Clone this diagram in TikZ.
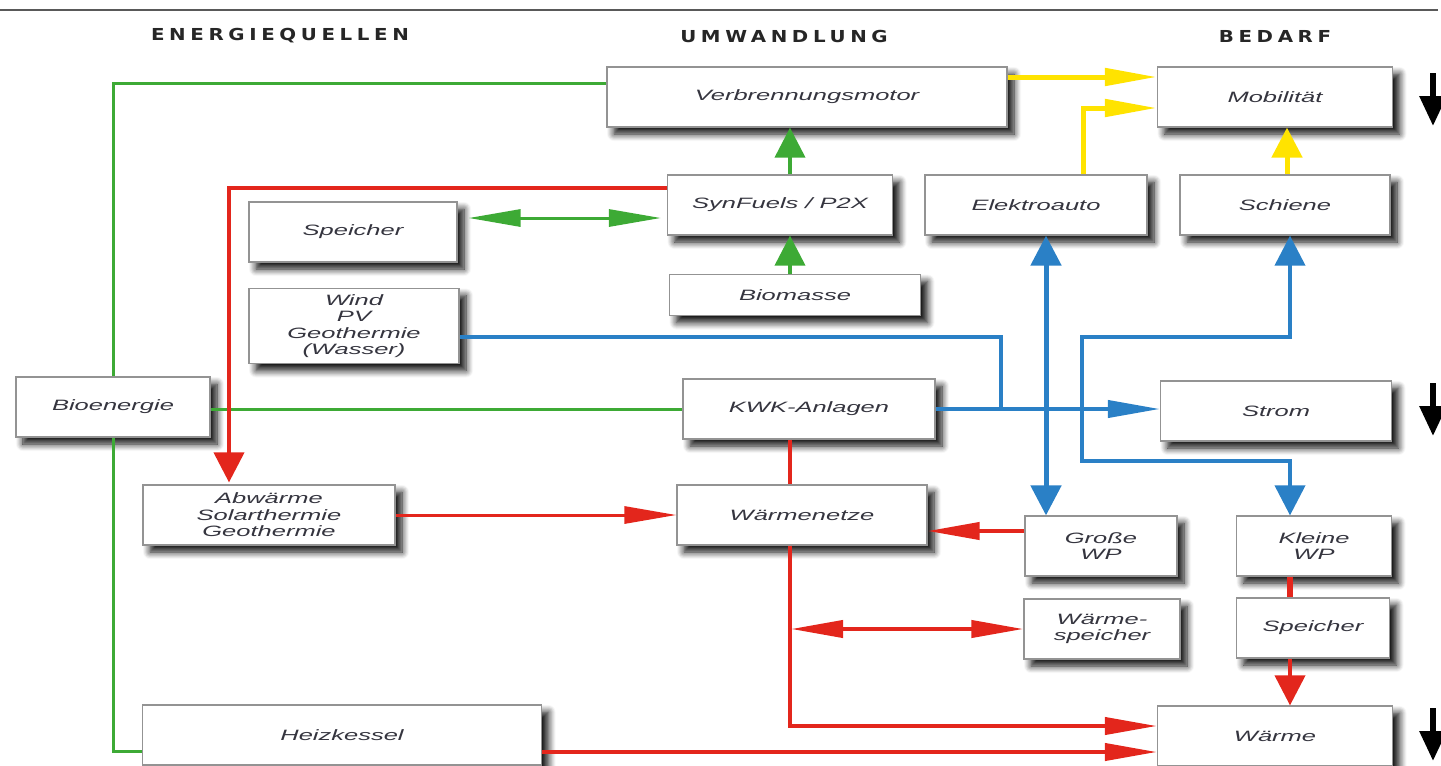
\documentclass[tikz,border=0pt]{standalone}
\usepackage{fontspec}
\setmainfont{Liberation Sans}[FakeStretch=1.7]
\newfontfamily\kopffont{DejaVu Sans}[FakeStretch=1.2,LetterSpace=28]
\usetikzlibrary{arrows.meta,shadows.blur}
\definecolor{gruen}{HTML}{3DAA35}
\definecolor{rot}{HTML}{E3261C}
\definecolor{blau}{HTML}{2A80C6}
\definecolor{gelb}{HTML}{FFE300}
\definecolor{schrift}{HTML}{35353F}
\begin{document}
\begin{tikzpicture}[x=1pt, y=-1pt, line join=miter]
		\tikzset{box/.style={draw=gray!85, line width=1.2pt, fill=white, minimum height=60pt, inner sep=0pt, align=center, text=schrift, font=\fontsize{15}{16.5}\selectfont\itshape, blur shadow={shadow xshift=7pt, shadow yshift=-7pt, shadow blur radius=7pt, shadow blur steps=8, shadow opacity=95}}}
		\tikzset{kopf/.style={font=\kopffont\bfseries\fontsize{16.5}{18}\selectfont, text=black!85}}
		\tikzset{hpfeil/.style={-{Triangle[length=52pt,width=17pt]}}, hdoppel/.style={{Triangle[length=52pt,width=17pt]}-{Triangle[length=52pt,width=17pt]}}}
		\tikzset{vpfeil/.style={-{Triangle[length=30pt,width=30pt]}}, vdoppel/.style={{Triangle[length=30pt,width=30pt]}-{Triangle[length=30pt,width=30pt]}}}
		\useasboundingbox (0,0) rectangle (1441,766);
		\draw[gray!70!black, line width=2pt] (0,10) -- (1438,10);
		\node[kopf] (quellen) at (280,36) {ENERGIEQUELLEN};
		\node[kopf] (umwandlung) at (784,36) {UMWANDLUNG};
		\node[kopf] (bedarf) at (1275,36) {BEDARF};
		% Kaesten
		\node[box, minimum width=400pt] (motor) at (807,97) {Verbrennungsmotor};
		\node[box, minimum width=235pt] (mobil) at (1275,97) {Mobilität};
		\node[box, minimum width=225pt] (synfuel) at (780,205) {SynFuels / P2X};
		\node[box, minimum width=222pt] (eauto) at (1036,205) {Elektroauto};
		\node[box, minimum width=210pt] (schiene) at (1285,205) {Schiene};
		\node[box, minimum width=208pt] (speicherA) at (353,232) {Speicher};
		\node[box, minimum width=251pt, minimum height=41pt] (biomasse) at (795,295) {Biomasse};
		\node[box, minimum width=210pt, minimum height=75pt] (wind) at (354,326) {Wind\\PV\\Geothermie\\(Wasser)};
		\node[box, minimum width=194pt] (bioenergie) at (113,407) {Bioenergie};
		\node[box, minimum width=252pt] (kwk) at (809,409) {KWK-Anlagen};
		\node[box, minimum width=231pt] (strom) at (1276,411) {Strom};
		\node[box, minimum width=252pt] (abwaerme) at (269,515) {Abwärme\\Solarthermie\\Geothermie};
		\node[box, minimum width=250pt] (netze) at (802,515) {Wärmenetze};
		\node[box, minimum width=152pt] (grosswp) at (1101,546) {Große\\WP};
		\node[box, minimum width=155pt] (kleinwp) at (1314,546) {Kleine\\WP};
		\node[box, minimum width=156pt] (wspeicher) at (1102,629) {Wärme-\\speicher};
		\node[box, minimum width=153pt] (speicherB) at (1313,628) {Speicher};
		\node[box, minimum width=399pt] (kessel) at (342,735) {Heizkessel};
		\node[box, minimum width=235pt] (waerme) at (1275,736) {Wärme};
		\coordinate (abzweig) at (791,629);
		% gruen
		\draw[gruen, line width=3pt] (bioenergie.north) |- ([yshift=14pt]motor.west);
		\draw[gruen, line width=3pt] (bioenergie.south) |- ([yshift=-16pt]kessel.west);
		\draw[gruen, line width=3pt] (bioenergie.east |- kwk) -- (kwk.west);
		\draw[gruen, line width=4pt, vpfeil] (biomasse.north -| 790,0) -- (synfuel.south -| 790,0);
		\draw[gruen, line width=4pt, vpfeil] (synfuel.north -| 790,0) -- (motor.south -| 790,0);
		\draw[gruen, line width=3pt, hdoppel] ([shift={(11pt,14pt)}]speicherA.east) -- ([shift={(-6pt,-13pt)}]synfuel.west);
		% rot
		\draw[rot, line width=4pt, vpfeil] ([yshift=17pt]synfuel.west) -| ([yshift=2pt]abwaerme.north -| 229,0);
		\draw[rot, line width=3pt, hpfeil] (abwaerme.east) -- (netze.west);
		\draw[rot, line width=4pt] (kwk.south -| 790,0) -- (netze.north -| 790,0);
		\draw[rot, line width=4pt, hpfeil] ([yshift=15pt]grosswp.west) -- ([yshift=15pt]grosswp.west -| netze.east);
		\draw[rot, line width=4pt, hpfeil] (netze.south -| 790,0) |- ([yshift=10pt]waerme.west);
		\draw[rot, line width=4pt, hdoppel] (abzweig) -- (wspeicher.west);
		\draw[rot, line width=4pt, hpfeil] ([yshift=-17pt]kessel.east) -- ([yshift=-16pt]waerme.west);
		\draw[rot, line width=6pt] (kleinwp.south -| 1290,0) -- (speicherB.north -| 1290,0);
		\draw[rot, line width=4pt, vpfeil] (speicherB.south -| 1290,0) -- (waerme.north -| 1290,0);
		% blau
		\draw[blau, line width=4pt] ([yshift=-11pt]wind.east) -| (kwk -| 1001,0);
		\draw[blau, line width=4pt, hpfeil] (kwk.east) -- (strom.west |- kwk);
		\draw[blau, line width=5pt, vdoppel] (eauto.south -| 1046,0) -- (grosswp.north -| 1046,0);
		\draw[blau, line width=4pt, vdoppel] (schiene.south -| 1290,0) |- (1082,337) |- (1290,461) -- (kleinwp.north -| 1290,0);
		% gelb
		\draw[gelb, line width=5pt, hpfeil] ([yshift=20pt]motor.east) -- ([yshift=20pt]mobil.west);
		\draw[gelb, line width=5pt, hpfeil] (eauto.north -| 1083,0) |- ([yshift=-11pt]mobil.west);
		\draw[gelb, line width=5pt, vpfeil] (schiene.north -| 1287,0) -- (mobil.south -| 1287,0);
		% Bedarf
		\foreach \y in {73,383,708}
			\draw[line width=6pt, -{Triangle[length=30pt,width=26pt]}] (1433,\y) -- ++(0,53);
\end{tikzpicture}
\end{document}
